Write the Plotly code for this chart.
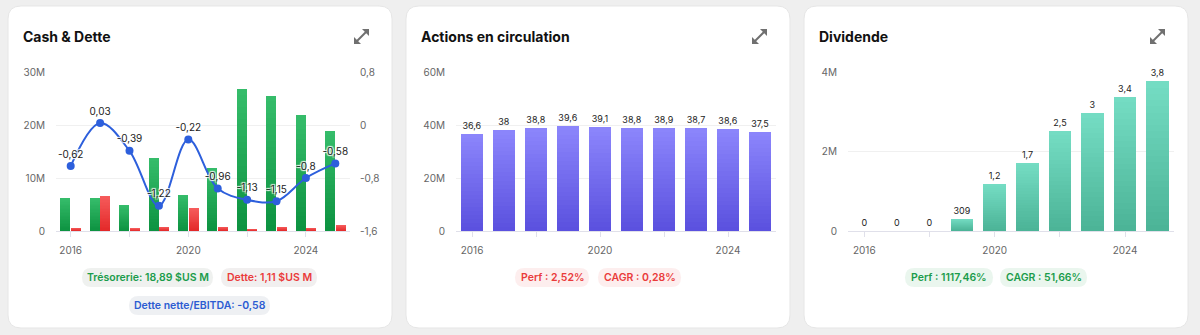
import plotly.graph_objects as go

W, H = 1200, 335

# ---------------- data ----------------
years = [2016, 2017, 2018, 2019, 2020, 2021, 2022, 2023, 2024, 2025]
x_tick_vals = [2016, 2018, 2020, 2022, 2024]
x_tick_text = ["2016", "", "2020", "", "2024"]

cash_m = [6.2, 6.2, 4.9, 13.8, 6.8, 11.8, 26.8, 25.5, 21.9, 18.89]
debt_m = [0.6, 6.6, 0.5, 0.8, 4.3, 0.8, 0.4, 0.8, 0.6, 1.11]
net_debt_ebitda = [-0.62, 0.03, -0.39, -1.22, -0.22, -0.96, -1.13, -1.15, -0.8, -0.58]
cash_y_ticks = [0, 10, 20, 30]
cash_y_text = ["0", "10M", "20M", "30M"]
ratio_y_ticks = [-1.6, -0.8, 0, 0.8]
ratio_y_text = ["-1,6", "-0,8", "0", "0,8"]

shares_m = [36.6, 38.0, 38.8, 39.6, 39.1, 38.8, 38.9, 38.7, 38.6, 37.5]
shares_y_ticks = [0, 20, 40, 60]
shares_y_text = ["0", "20M", "40M", "60M"]

dividend = [0, 0, 0, 309e3, 1.18e6, 1.72e6, 2.52e6, 2.96e6, 3.38e6, 3.762e6]
div_y_ticks = [0, 2e6, 4e6]
div_y_text = ["0", "2M", "4M"]

titles = ["Cash & Dette", "Actions en circulation", "Dividende"]

# ---------------- helpers ----------------
FONT = "Inter"


def fx(px):
    return px / W


def fy(py):
    return 1 - py / H


def comma(s):
    return s.replace(".", ",")


def fmt_ratio(v):
    s = f"{v:.2f}".rstrip("0").rstrip(".")
    return comma(s)


def fmt_shares(v):
    return comma(f"{v:g}")


def fmt_div(v):
    if v == 0:
        return "0"
    if v < 1e6:
        return f"{v / 1e3:.0f}"
    return comma(f"{v / 1e6:.1f}".rstrip("0").rstrip("."))


def hex2rgb(h):
    h = h.lstrip("#")
    return tuple(int(h[i:i + 2], 16) for i in (0, 2, 4))


def mix(c1, c2, t):
    a, b = hex2rgb(c1), hex2rgb(c2)
    return "rgba(%d,%d,%d,0.999)" % tuple(round(a[i] + (b[i] - a[i]) * t) for i in range(3))


def add_gradient_bars(fig, x, vals, top, bottom, width, offset, xa, ya, n=24):
    for k in range(n):
        fig.add_trace(go.Bar(
            x=x, y=[v / n for v in vals], base=[v * k / n for v in vals],
            width=width, offset=offset,
            marker=dict(color=mix(bottom, top, (k + 0.5) / n), line=dict(width=0)),
            xaxis=xa, yaxis=ya, showlegend=False, hoverinfo="skip"))


def add_bar_labels(fig, x, vals, labels, width, offset, xa, ya):
    fig.add_trace(go.Bar(
        x=x, y=vals, width=width, offset=offset, text=labels,
        textposition="outside", constraintext="none", cliponaxis=False,
        textfont=dict(family=FONT, size=9, color="#222"),
        marker=dict(color="rgba(0,0,0,0)", line=dict(width=0)),
        xaxis=xa, yaxis=ya, showlegend=False, hoverinfo="skip"))


def rrect(x0, y0, x1, y1, r):
    pts = [
        ("M", [(x0 + r, y0)]), ("L", [(x1 - r, y0)]), ("Q", [(x1, y0), (x1, y0 + r)]),
        ("L", [(x1, y1 - r)]), ("Q", [(x1, y1), (x1 - r, y1)]),
        ("L", [(x0 + r, y1)]), ("Q", [(x0, y1), (x0, y1 - r)]),
        ("L", [(x0, y0 + r)]), ("Q", [(x0, y0), (x0 + r, y0)]),
    ]
    s = ""
    for cmd, ps in pts:
        s += cmd + " ".join(f"{fx(a):.6f},{fy(b):.6f}" for a, b in ps)
    return s + "Z"


def poly(points):
    return "M" + "L".join(f"{fx(a):.6f},{fy(b):.6f}" for a, b in points) + "Z"


fig = go.Figure()

# ---------------- panel 1 ----------------
add_gradient_bars(fig, years, cash_m, "#36bd6b", "#0c9240", 0.34, -0.35, "x", "y")
add_gradient_bars(fig, years, debt_m, "#f65c5c", "#e32828", 0.34, 0.01, "x", "y")
fig.add_trace(go.Scatter(
    x=years, y=net_debt_ebitda, xaxis="x", yaxis="y2",
    mode="lines+markers+text", line=dict(color="#2d5fdc", width=2, shape="spline", smoothing=1),
    marker=dict(size=8, color="#2d5fdc"),
    text=[fmt_ratio(v) for v in net_debt_ebitda], textposition="top center",
    textfont=dict(family=FONT, size=10, color="#222",
                  shadow="1px 1px 1px #fff, -1px -1px 1px #fff, 1px -1px 1px #fff, -1px 1px 1px #fff"),
    cliponaxis=False, showlegend=False, hoverinfo="skip"))

# ---------------- panel 2 ----------------
add_gradient_bars(fig, years, shares_m, "#8c86fc", "#5a50de", 0.71, -0.355, "x2", "y3")
add_bar_labels(fig, years, shares_m, [fmt_shares(v) for v in shares_m], 0.71, -0.355, "x2", "y3")

# ---------------- panel 3 ----------------
add_gradient_bars(fig, years, dividend, "#75ddc4", "#4bb396", 0.69, -0.345, "x3", "y4")
add_bar_labels(fig, years, dividend, [fmt_div(v) for v in dividend], 0.69, -0.345, "x3", "y4")

# ---------------- axes ----------------
tickfont = dict(family=FONT, size=10, color="#666")
ydom = [fy(231), fy(72)]


def xax(d0, d1, anchor):
    return dict(domain=[fx(d0), fx(d1)], range=[2015.5, 2025.5], anchor=anchor,
                tickmode="array", tickvals=x_tick_vals, ticktext=x_tick_text,
                ticks="outside", ticklen=5, tickcolor="#e0e0ea", tickwidth=1,
                showline=True, linecolor="#e0e0ea", linewidth=1, showgrid=False,
                zeroline=False, tickfont=tickfont, ticklabelstandoff=5, fixedrange=True,
                automargin=False)


def yax(rng, tv, tt, anchor):
    return dict(domain=ydom, range=rng, anchor=anchor, tickmode="array", tickvals=tv, ticktext=tt,
                showgrid=True, gridcolor="#f0f0f0", gridwidth=1, zeroline=False, showline=False,
                ticks="", tickfont=tickfont, ticklabelstandoff=10, fixedrange=True,
                automargin=False)


fig.update_layout(
    xaxis=xax(56, 350, "y"),
    yaxis=yax([0, 30], cash_y_ticks, cash_y_text, "x"),
    yaxis2=dict(domain=ydom, range=[-1.6, 0.8], overlaying="y", side="right", anchor="x",
                tickmode="array", tickvals=ratio_y_ticks, ticktext=ratio_y_text,
                showgrid=False, zeroline=False, showline=False, ticks="",
                tickfont=tickfont, ticklabelstandoff=9, fixedrange=True, automargin=False),
    xaxis2=xax(456, 776, "y3"),
    yaxis3=yax([0, 60], shares_y_ticks, shares_y_text, "x2"),
    xaxis3=xax(848, 1174, "y4"),
    yaxis4=yax([0, 4e6], div_y_ticks, div_y_text, "x3"),
)

# ---------------- cards, titles, icons ----------------
shapes = []
annotations = []
cards = [(8, 392), (406, 790), (804, 1188)]
for (c0, c1), title in zip(cards, titles):
    shapes.append(dict(type="path", path=rrect(c0, 6, c1, 328, 13), xref="paper", yref="paper",
                       fillcolor="#ffffff", line=dict(color="#e6e6e6", width=1), layer="below"))
    annotations.append(dict(text=f"<b>{title}</b>", x=fx(c0 + 13), y=fy(36), xref="paper", yref="paper",
                            xanchor="left", yanchor="middle", showarrow=False,
                            font=dict(family=FONT, size=14, color="#111")))
    # expand icon
    ix0, iy0, ix1, iy1 = c1 - 38, 29, c1 - 23, 44
    shapes.append(dict(type="line", x0=fx(ix0 + 3), y0=fy(iy1 - 3), x1=fx(ix1 - 3), y1=fy(iy0 + 3),
                       xref="paper", yref="paper", line=dict(color="#707070", width=2)))
    shapes.append(dict(type="path", path=poly([(ix1, iy0), (ix1 - 7, iy0), (ix1, iy0 + 7)]),
                       xref="paper", yref="paper", fillcolor="#707070", line=dict(width=0)))
    shapes.append(dict(type="path", path=poly([(ix0, iy1), (ix0 + 7, iy1), (ix0, iy1 - 7)]),
                       xref="paper", yref="paper", fillcolor="#707070", line=dict(width=0)))

# badges: (x0, x1, y0, y1, text, color, bg)
badges = [
    (82, 213, 268, 287, "Trésorerie: 18,89 $US M", "#1b9c4b", "#eff1ef"),
    (221, 317, 268, 287, "Dette: 1,11 $US M", "#ea3b3b", "#f1efef"),
    (129, 270, 296, 315, "Dette nette/EBITDA: -0,58", "#2c5cd2", "#eef0f3"),
    (515, 589, 268, 287, "Perf : 2,52%", "#ea3b3b", "#fdeeee"),
    (598, 681, 268, 287, "CAGR : 0,28%", "#ea3b3b", "#fdeeee"),
    (905, 993, 268, 287, "Perf : 1117,46%", "#1b9c4b", "#eaf6ee"),
    (1000, 1087, 268, 287, "CAGR : 51,66%", "#1b9c4b", "#eaf6ee"),
]
for b0, b1, t0, t1, txt, col, bg in badges:
    shapes.append(dict(type="path", path=rrect(b0, t0, b1, t1, (t1 - t0) / 2), xref="paper", yref="paper",
                       fillcolor=bg, line=dict(width=0), layer="below"))
    annotations.append(dict(text=txt, x=fx((b0 + b1) / 2), y=fy((t0 + t1) / 2),
                            xref="paper", yref="paper", xanchor="center", yanchor="middle",
                            showarrow=False, font=dict(family=FONT, size=10.5, color=col, weight=600)))

fig.update_layout(
    width=W, height=H, margin=dict(l=0, r=0, t=0, b=0, pad=0, autoexpand=False),
    paper_bgcolor="#efefef", plot_bgcolor="rgba(0,0,0,0)",
    barmode="overlay", bargap=0, showlegend=False,
    shapes=shapes, annotations=annotations,
    font=dict(family=FONT),
    hovermode=False,
)

fig.write_html("out.html", config={"displayModeBar": False})
